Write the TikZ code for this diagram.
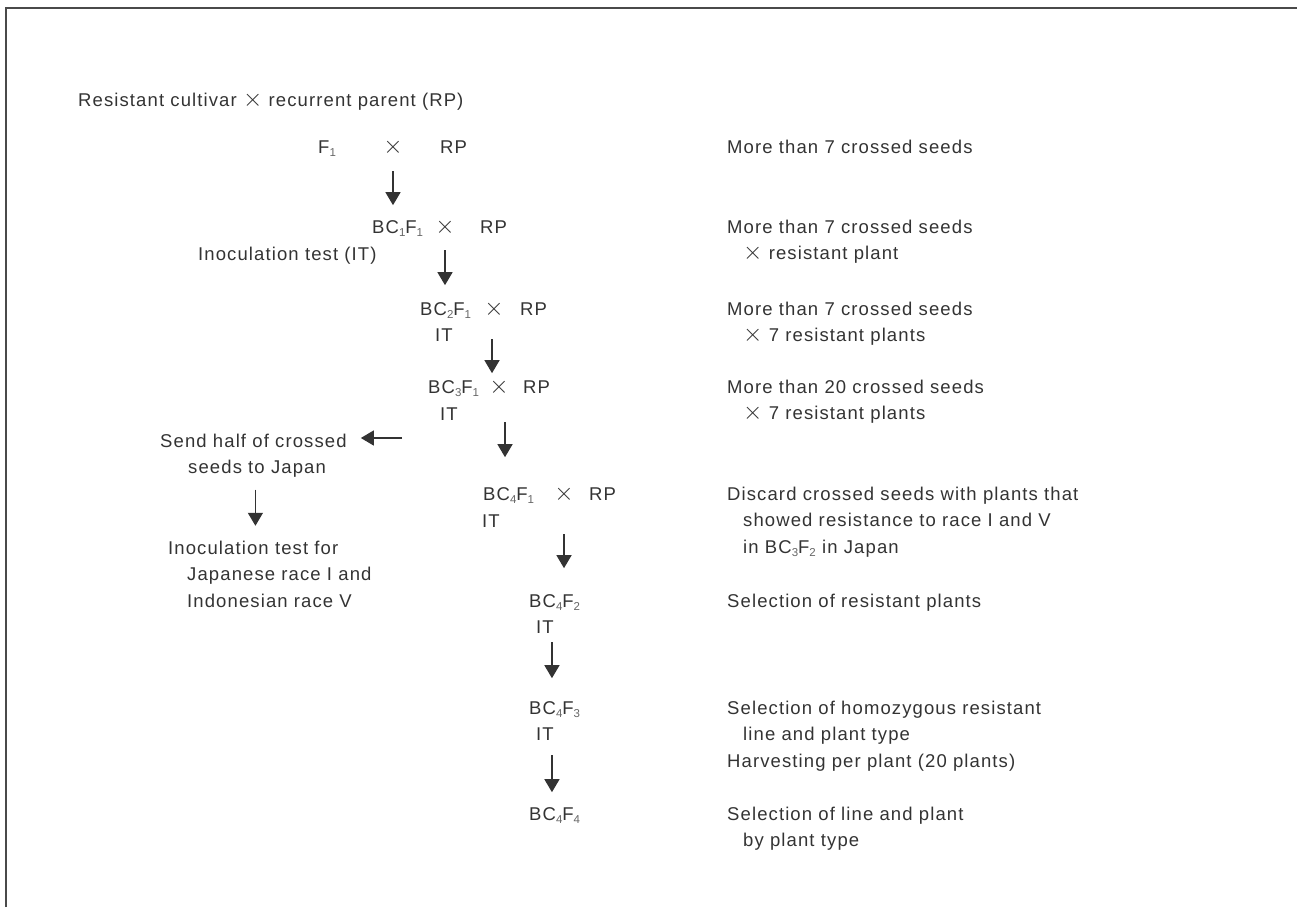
\documentclass[tikz,border=0pt]{standalone}
\usepackage{fontspec}
\setmainfont{Liberation Sans}[LetterSpace=6]
\usetikzlibrary{arrows.meta,positioning}
\definecolor{ink}{HTML}{333333}
\definecolor{framegrey}{HTML}{4A4A4A}
\definecolor{subgrey}{HTML}{666666}
\newcommand{\gs}[1]{\raisebox{-3pt}{\fontsize{11.5}{11.5}\selectfont\color{subgrey}#1}}
\newcommand{\xx}{{\fontsize{24}{24}\selectfont$\times$}}
\newcommand{\ind}{\hspace*{16pt}}
\tikzset{
  txt/.style={anchor=base west, inner sep=0pt, text=ink, font=\fontsize{18.5}{26.7}\selectfont},
  note/.style={txt, align=left},
  gen/.style={txt},
  cross/.style={txt, anchor=base},
  flow/.style={draw=ink, line width=1.4pt, -{Triangle[width=15pt,length=13pt]}}
}
\begin{document}
\begin{tikzpicture}[x=1pt,y=-1pt]
\useasboundingbox (0,0) rectangle (1297,907);
\draw[framegrey, line width=2pt] (6,907) -- (6,8) -- (1297,8);

\node[txt] (title) at (78,106) {Resistant cultivar \xx{} recurrent parent (RP)};

% backcross generations
\node[gen] (f1) at (318,153) {F\gs{1}};
\node[cross] (x1) at (393,153) {\xx};
\node[gen] (rp1) at (440,153) {RP};

\node[gen] (bc1f1) at (372,233) {BC\gs{1}F\gs{1}};
\node[cross] (x2) at (445,233) {\xx};
\node[gen] (rp2) at (480,233) {RP};
\node[txt] (it1) at (198,260) {Inoculation test (IT)};

\node[gen] (bc2f1) at (420,315) {BC\gs{2}F\gs{1}};
\node[cross] (x3) at (494,315) {\xx};
\node[gen] (rp3) at (520,315) {RP};
\node[txt] (it2) at (435,341) {IT};

\node[gen] (bc3f1) at (428,393) {BC\gs{3}F\gs{1}};
\node[cross] (x4) at (499,393) {\xx};
\node[gen] (rp4) at (523,393) {RP};
\node[txt] (it3) at (440,420) {IT};

\node[gen] (bc4f1) at (483,500) {BC\gs{4}F\gs{1}};
\node[cross] (x5) at (564,500) {\xx};
\node[gen] (rp5) at (589,500) {RP};
\node[txt] (it4) at (482,527) {IT};

\node[gen] (bc4f2) at (529,607) {BC\gs{4}F\gs{2}};
\node[txt] (it5) at (536,633) {IT};
\node[gen] (bc4f3) at (529,714) {BC\gs{4}F\gs{3}};
\node[txt] (it6) at (536,740) {IT};
\node[gen] (bc4f4) at (529,820) {BC\gs{4}F\gs{4}};

% Japan branch (anchored on the last line)
\node[note] (send) at (160,473.7) {Send half of crossed\\\hspace*{28pt}seeds to Japan};
\node[note] (inoc) at (168,607.4) {Inoculation test for\\\hspace*{19pt}Japanese race I and\\\hspace*{19pt}Indonesian race V};

% notes
\node[note] (n1) at (727,153) {More than 7 crossed seeds};
\node[note] (n2) at (727,259.7) {More than 7 crossed seeds\\\ind\xx{} resistant plant};
\node[note] (n3) at (727,341.7) {More than 7 crossed seeds\\\ind\xx{} 7 resistant plants};
\node[note] (n4) at (727,419.7) {More than 20 crossed seeds\\\ind\xx{} 7 resistant plants};
\node[note] (n5) at (727,553.4) {Discard crossed seeds with plants that\\\ind showed resistance to race I and V\\\ind in BC\gs{3}F\gs{2} in Japan};
\node[note] (n6) at (727,607) {Selection of resistant plants};
\node[note] (n7) at (727,767.4) {Selection of homozygous resistant\\\ind line and plant type\\Harvesting per plant (20 plants)};
\node[note] (n8) at (727,846.7) {Selection of line and plant\\\ind by plant type};

\coordinate (split) at (402,438);

\draw[flow, shorten <=16pt, shorten >=14.7pt] (x1.south) -- (x1.south |- bc1f1.north);
\draw[flow, shorten <=15pt, shorten >=16.7pt] (x2.south) -- (x2.south |- bc2f1.north);
\draw[flow, shorten <=22pt, shorten >=6.7pt] ([xshift=-2pt]x3.south) -- ([xshift=-2pt]x3.south |- bc3f1.north);
\draw[flow, shorten <=27pt, shorten >=29.7pt] ([xshift=6pt]x4.south) -- ([xshift=6pt]x4.south |- bc4f1.north);
\draw[flow, shorten <=32pt, shorten >=25.7pt] (x5.south) -- (x5.south |- bc4f2.north);
\draw[flow, shorten <=9pt, shorten >=22.7pt] ([xshift=-2pt]it5.south east) -- ([xshift=-2pt]it5.south east |- bc4f3.north);
\draw[flow, shorten <=15pt, shorten >=14.7pt] ([xshift=-2pt]it6.south east) -- ([xshift=-2pt]it6.south east |- bc4f4.north);
\draw[flow, shorten >=14pt] (split) -- (split -| send.east);
\draw[flow, shorten <=12pt, shorten >=14.6pt] ([xshift=2pt]send.south) -- ([xshift=2pt]send.south |- inoc.north);
\end{tikzpicture}
\end{document}
